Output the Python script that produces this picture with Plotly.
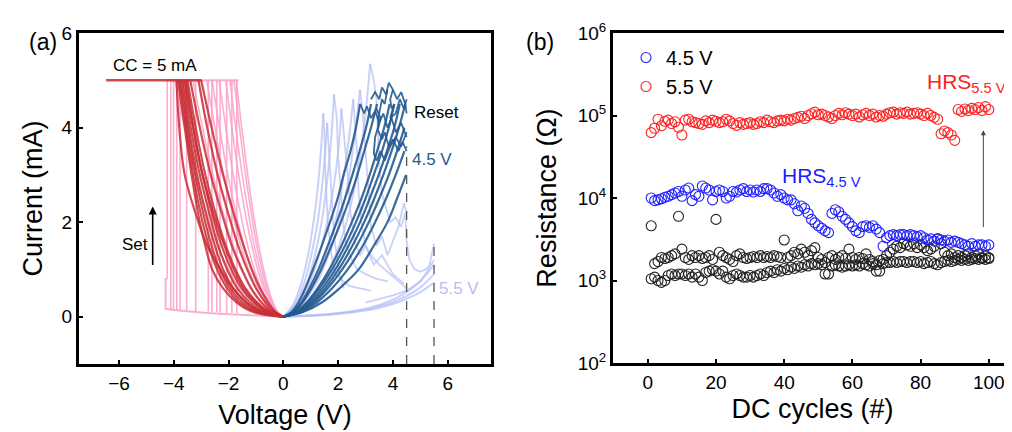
"""Two-panel figure: (a) I-V sweeps, (b) resistance vs DC cycle."""
import plotly.graph_objects as go

FONT = "Liberation Sans, Arial, sans-serif"

# ---------------- panel (a): I-V data ----------------
# current grid (mA) shared by the set-side return curves
CUR_GRID = [5, 4, 3, 2, 1.5, 1, 0.6, 0.3, 0.1, 0]

RED_CURVES = [
    [-3.0, -2.62, -2.2, -1.72, -1.45, -1.15, -0.85, -0.55, -0.28, 0],
    [-3.1, -2.78, -2.4, -1.92, -1.65, -1.32, -1.0, -0.66, -0.33, 0],
    [-3.4, -3.05, -2.65, -2.15, -1.88, -1.52, -1.18, -0.8, -0.42, 0],
    [-3.5, -3.2, -2.85, -2.38, -2.1, -1.75, -1.38, -0.95, -0.5, 0],
    [-3.55, -3.28, -2.95, -2.52, -2.25, -1.9, -1.52, -1.08, -0.6, 0],
    [-3.65, -3.38, -3.05, -2.62, -2.38, -2.05, -1.68, -1.22, -0.7, 0],
    [-3.7, -3.45, -3.15, -2.75, -2.5, -2.2, -1.82, -1.35, -0.8, 0],
    [-3.75, -3.5, -3.22, -2.85, -2.62, -2.32, -1.95, -1.48, -0.9, 0],
    [-3.8, -3.55, -3.3, -2.95, -2.72, -2.42, -2.05, -1.6, -1.0, 0],
    [-3.9, -3.8, -3.6, -3.1, -2.78, -2.3, -1.85, -1.35, -0.8, 0],
    [-3.85, -3.6, -3.35, -3.05, -2.85, -2.6, -2.2, -1.7, -1.1, 0],
    [-3.6, -3.3, -2.95, -2.45, -2.15, -1.8, -1.45, -1.0, -0.55, 0],
]
RED_CC_V = [-6.47, -2.98]

PINK_CURVES = [
    [-1.72, -1.52, -1.3, -1.05, -0.9, -0.72, -0.55, -0.38, -0.2, 0],
    [-1.8, -1.6, -1.38, -1.12, -0.97, -0.78, -0.6, -0.41, -0.22, 0],
    [-1.95, -1.74, -1.5, -1.22, -1.06, -0.86, -0.66, -0.45, -0.24, 0],
    [-2.1, -1.88, -1.63, -1.33, -1.15, -0.94, -0.72, -0.49, -0.26, 0],
    [-2.35, -2.1, -1.83, -1.5, -1.3, -1.06, -0.81, -0.55, -0.29, 0],
    [-2.6, -2.33, -2.03, -1.66, -1.44, -1.17, -0.9, -0.61, -0.32, 0],
    [-2.8, -2.5, -2.18, -1.78, -1.55, -1.26, -0.97, -0.66, -0.35, 0],
    [-3.3, -2.95, -2.57, -2.1, -1.83, -1.49, -1.15, -0.78, -0.41, 0],
    [-3.95, -3.6, -3.2, -2.7, -2.4, -2.0, -1.6, -1.1, -0.6, 0],
]
PINK_SET_V = [-4.24, -4.11, -4.01, -3.89, -3.77, -3.53, -3.2, -2.74, -2.61, -2.43, -2.31, -2.07, -1.88, -1.7]
PINK_SET_I0 = [0.8, 0.15, 0.15, 0.14, 0.14, 0.13, 0.12, 0.11, 0.1, 0.1, 0.09, 0.08, 0.08, 0.07]
PINK_CC_V = [-4.32, -1.64]
PINK_BASE_V = [0, -0.5, -1, -1.5, -2, -2.5, -3, -3.5, -4, -4.3, -4.3, -4.24]
PINK_BASE_I = [0, 0.012, 0.025, 0.04, 0.055, 0.07, 0.09, 0.11, 0.14, 0.17, 0.8, 0.8]

# reset side, 4.5 V stop (dark blue); voltages at each current of DB_GRID
DB_GRID = [0, 0.1, 0.3, 0.6, 1, 1.5, 2, 2.5, 3, 3.5, 4, 4.5]
DB_CURVES = [
    [0, 0.3, 0.55, 0.8, 1.08, 1.4, 1.7, 1.98, 2.2, 2.45, 2.65, 2.8],
    [0, 0.35, 0.65, 0.95, 1.28, 1.62, 1.95, 2.25, 2.52, 2.78, 3.02, 3.2],
    [0, 0.38, 0.7, 1.02, 1.38, 1.75, 2.1, 2.42, 2.7, 2.95, 3.2, 3.42],
    [0, 0.45, 0.85, 1.25, 1.68, 2.12, 2.5, 2.85, 3.15, 3.42, 3.68, 3.88],
    [0, 0.48, 0.9, 1.32, 1.78, 2.25, 2.65, 3.0, 3.3, 3.6, 3.85, 4.05],
    [0, 0.52, 0.98, 1.42, 1.9, 2.38, 2.8, 3.15, 3.48, 3.78, 4.05, 4.25],
    [0, 0.55, 1.05, 1.52, 2.02, 2.52, 2.95, 3.32, 3.65, 3.95, 4.22, 4.45],
    [0, 0.6, 1.12, 1.62, 2.15, 2.68, 3.12, 3.5, 3.85, 4.15, 4.42],
    [0, 0.65, 1.22, 1.78, 2.35, 2.9, 3.35, 3.75, 4.1, 4.42],
    [0, 0.72, 1.4, 2.05, 2.75, 3.3, 3.8, 4.15, 4.48],
]
DB_NOISE = [
    ([2.8, 2.95, 3.05, 3.2, 3.35, 3.5, 3.65, 3.8, 3.95, 4.1, 4.3, 4.5],
     [4.5, 4.3, 4.45, 4.2, 4.35, 4.1, 4.3, 4.0, 4.2, 3.9, 4.1, 3.8]),
    ([3.2, 3.35, 3.5, 3.6, 3.75, 3.85, 4.0, 4.15, 4.3, 4.45, 4.5],
     [4.6, 4.75, 4.6, 4.85, 4.7, 4.95, 4.8, 4.6, 4.75, 4.5, 4.3]),
    ([3.8, 3.7, 3.6, 3.5, 3.45, 3.35, 3.3, 3.4, 3.55, 3.7, 3.9, 4.1, 4.3, 4.5],
     [4.8, 4.5, 4.6, 4.3, 4.0, 3.8, 3.45, 3.3, 3.5, 3.3, 3.6, 3.8, 3.6, 3.9]),
    ([4.0, 3.9, 3.95, 4.05, 3.9, 4.1, 4.25, 4.4, 4.5],
     [4.8, 4.6, 4.4, 4.5, 4.2, 4.3, 4.6, 4.4, 4.6]),
    ([3.4, 3.55, 3.45, 3.6, 3.7, 3.85, 4.0, 4.2, 4.35, 4.5],
     [4.4, 4.2, 3.95, 3.75, 3.9, 3.6, 3.75, 3.5, 3.7, 3.5]),
]

# reset side, 5.5 V stop (light blue): smooth rise, then noisy fall
LB_RISE = [
    ([0, 0.35, 0.65, 0.9, 1.1, 1.27, 1.38, 1.46], [0, 0.25, 0.7, 1.3, 2.0, 2.8, 3.6, 4.3]),
    ([0, 0.4, 0.75, 1.02, 1.25, 1.42, 1.53, 1.6], [0, 0.25, 0.7, 1.3, 2.0, 2.8, 3.5, 4.1]),
    ([0, 0.45, 0.85, 1.15, 1.4, 1.6, 1.75, 1.85], [0, 0.25, 0.7, 1.3, 2.0, 2.9, 3.8, 4.7]),
    ([0, 0.5, 0.95, 1.3, 1.6, 1.85, 2.02, 2.12], [0, 0.25, 0.7, 1.3, 2.0, 2.8, 3.6, 4.4]),
    ([0, 0.6, 1.12, 1.55, 1.9, 2.18, 2.4, 2.55], [0, 0.25, 0.7, 1.3, 2.0, 2.9, 3.8, 4.6]),
    ([0, 0.65, 1.2, 1.65, 2.05, 2.38, 2.62, 2.8], [0, 0.25, 0.7, 1.3, 2.0, 2.9, 3.9, 4.8]),
    ([0, 0.75, 1.38, 1.9, 2.35, 2.72, 2.98, 3.17], [0, 0.25, 0.7, 1.3, 2.1, 3.1, 4.2, 5.35]),
]
LB_FALL = [
    ([1.46, 1.5, 1.52, 1.58, 1.62, 1.7, 1.78, 1.9, 2.1, 2.4, 2.8, 3.2],
     [4.3, 3.9, 3.2, 2.6, 2.0, 1.6, 1.2, 0.9, 0.8, 0.65, 0.6, 0.55]),
    ([1.6, 1.65, 1.72, 1.8, 1.85, 1.95, 2.05, 2.2],
     [4.1, 3.6, 2.9, 2.3, 1.7, 1.3, 0.9, 0.6]),
    ([1.85, 1.95, 2.0, 2.1, 2.2, 2.3, 2.5, 2.7, 3.0, 3.4, 3.8],
     [4.7, 4.2, 3.4, 2.6, 1.9, 1.5, 1.2, 1.0, 0.9, 0.8, 0.75]),
    ([2.12, 2.2, 2.35, 2.45, 2.6, 2.8, 3.0, 3.3, 3.6, 4.0, 4.4],
     [4.4, 3.9, 3.0, 2.2, 1.6, 1.3, 1.5, 1.1, 1.3, 0.9, 0.7]),
    ([2.55, 2.6, 2.7, 2.75, 2.85, 3.0, 3.2, 3.5, 3.9, 4.3, 4.5],
     [4.6, 4.2, 3.4, 2.6, 2.0, 1.5, 1.3, 1.1, 0.9, 0.7, 0.6]),
    ([2.8, 2.9, 3.0, 3.1, 3.2, 3.4, 3.6, 3.8, 4.0, 4.2, 4.4, 4.5],
     [4.8, 4.3, 3.5, 2.7, 1.9, 1.5, 1.7, 1.3, 1.6, 1.9, 2.4, 2.2]),
    ([3.17, 3.3, 3.4, 3.45, 3.5, 3.6, 3.75, 3.9, 4.1, 4.3, 4.45, 4.5, 4.6, 4.8, 5.0, 5.2, 5.4, 5.5],
     [5.35, 5.0, 4.6, 4.0, 3.2, 2.6, 2.3, 2.0, 2.1, 1.9, 2.2, 1.6, 1.2, 1.0, 0.95, 1.0, 1.1, 1.2]),
]
LB_HRS_V = [0, 1, 2, 3, 3.5, 4, 4.5, 5, 5.5]
LB_HRS_I = [
    [0, 0.02, 0.06, 0.13, 0.19, 0.27, 0.38, 0.52, 0.72],
    [0, 0.025, 0.07, 0.15, 0.22, 0.31, 0.44, 0.62, 0.9],
    [0, 0.03, 0.08, 0.17, 0.25, 0.36, 0.52, 0.75, 1.1],
]
LB_TAIL_V = [3.0, 4.0, 4.5, 5.0, 5.3, 5.5]
LB_TAIL_I = [0.3, 0.45, 0.55, 0.75, 1.0, 1.55]

STOP_V = [4.5, 5.5]
STOP_TOP = [3.6, 1.5]

# ---------------- panel (b): resistance vs cycle ----------------
CYCLES = list(range(1, 101))
HRS_55 = [
    62e3, 70e3, 90e3, 75e3, 85e3, 88e3, 80e3, 84e3, 72e3, 58e3,
    88e3, 90e3, 84e3, 82e3, 80e3, 78e3, 86e3, 82e3, 88e3, 85e3,
    82e3, 84e3, 90e3, 86e3, 80e3, 76e3, 82e3, 78e3, 80e3, 82e3,
    78e3, 80e3, 84e3, 82e3, 88e3, 84e3, 82e3, 86e3, 88e3, 86e3,
    90e3, 88e3, 92e3, 95e3, 98e3, 92e3, 100e3, 105e3, 110e3, 102e3,
    104e3, 100e3, 96e3, 92e3, 100e3, 106e3, 102e3, 108e3, 104e3, 100e3,
    104e3, 96e3, 102e3, 106e3, 100e3, 104e3, 96e3, 100e3, 98e3, 104e3,
    108e3, 110e3, 104e3, 108e3, 106e3, 110e3, 104e3, 106e3, 108e3, 104e3,
    100e3, 106e3, 100e3, 95e3, 90e3, 60e3, 65e3, 62e3, 58e3, 50e3,
    118e3, 112e3, 120e3, 115e3, 122e3, 118e3, 125e3, 115e3, 128e3, 118e3,
]
HRS_45 = [
    10.0e3, 9.3e3, 9.5e3, 9.8e3, 10.2e3, 10.5e3, 11e3, 11.5e3, 12e3, 10.5e3,
    12.5e3, 13.2e3, 9.3e3, 11e3, 10.5e3, 14e3, 13.2e3, 12.5e3, 9.5e3, 12e3,
    12.5e3, 12e3, 10e3, 10.5e3, 12e3, 11.8e3, 12.5e3, 13e3, 12e3, 12.5e3,
    11.8e3, 12.5e3, 12e3, 13e3, 13e3, 12.5e3, 11.5e3, 10.5e3, 11e3, 10e3,
    9.5e3, 9.5e3, 8.5e3, 7.0e3, 8e3, 7.5e3, 6.5e3, 5.5e3, 5e3, 4.6e3,
    4.3e3, 4e3, 3.8e3, 6.5e3, 7.2e3, 6.8e3, 6e3, 5.5e3, 5e3, 4.5e3,
    4.0e3, 3.8e3, 4.5e3, 4.6e3, 4.4e3, 4.6e3, 4.2e3, 3.8e3, 2.6e3, 3.3e3,
    3.5e3, 3.6e3, 3.5e3, 3.6e3, 3.6e3, 3.5e3, 3.6e3, 3.5e3, 3.4e3, 3.5e3,
    3.3e3, 3.1e3, 3.2e3, 3.0e3, 3.2e3, 3.1e3, 3.0e3, 3.1e3, 2.9e3, 3.0e3,
    2.9e3, 2.8e3, 2.7e3, 2.6e3, 2.8e3, 2.6e3, 2.7e3, 2.7e3, 2.6e3, 2.7e3,
]
LRS_A = [
    4.6e3, 1.6e3, 1.7e3, 1.9e3, 1.85e3, 1.9e3, 2.0e3, 2.1e3, 6.0e3, 2.4e3,
    1.9e3, 1.8e3, 2.0e3, 1.9e3, 2.0e3, 1.85e3, 1.9e3, 2.0e3, 1.8e3, 5.5e3,
    2.2e3, 2.0e3, 1.9e3, 1.8e3, 1.7e3, 2.0e3, 2.1e3, 1.9e3, 1.85e3, 1.9e3,
    1.95e3, 1.9e3, 2.0e3, 1.9e3, 1.95e3, 1.9e3, 2.0e3, 1.95e3, 1.9e3, 3.1e3,
    1.9e3, 2.0e3, 2.2e3, 2.1e3, 2.4e3, 2.2e3, 2.0e3, 2.3e3, 2.5e3, 1.9e3,
    1.8e3, 1.2e3, 1.9e3, 2.0e3, 1.8e3, 1.9e3, 2.0e3, 1.85e3, 2.4e3, 1.9e3,
    1.8e3, 1.9e3, 1.85e3, 2.1e3, 1.8e3, 1.7e3, 1.3e3, 1.75e3, 1.8e3, 2.0e3,
    2.2e3, 2.4e3, 2.6e3, 2.5e3, 2.8e3, 2.7e3, 2.6e3, 2.8e3, 2.5e3, 2.7e3,
    2.5e3, 2.3e3, 2.4e3, 2.6e3, 3.2e3, 2.8e3, 2.2e3, 2.0e3, 2.1e3, 1.9e3,
    2.0e3, 1.9e3, 2.0e3, 2.1e3, 1.9e3, 2.0e3, 2.1e3, 1.9e3, 2.0e3, 1.9e3,
]
LRS_B = [
    1.05e3, 1.1e3, 1.0e3, 0.95e3, 1.0e3, 1.15e3, 1.2e3, 1.15e3, 1.2e3, 1.2e3,
    1.15e3, 1.2e3, 1.1e3, 1.2e3, 1.1e3, 1.0e3, 1.25e3, 1.3e3, 1.35e3, 1.3e3,
    1.2e3, 1.3e3, 1.1e3, 1.05e3, 1.15e3, 1.2e3, 1.15e3, 1.1e3, 1.1e3, 1.15e3,
    1.1e3, 1.15e3, 1.2e3, 1.15e3, 1.25e3, 1.3e3, 1.25e3, 1.35e3, 1.3e3, 1.4e3,
    1.35e3, 1.45e3, 1.4e3, 1.5e3, 1.45e3, 1.55e3, 1.5e3, 1.6e3, 1.55e3, 1.6e3,
    1.55e3, 1.65e3, 1.2e3, 1.5e3, 1.55e3, 1.5e3, 1.45e3, 1.5e3, 1.55e3, 1.5e3,
    1.55e3, 1.5e3, 1.6e3, 1.55e3, 1.5e3, 1.6e3, 1.55e3, 1.3e3, 1.6e3, 1.65e3,
    1.65e3, 1.7e3, 1.65e3, 1.7e3, 1.7e3, 1.65e3, 1.7e3, 1.7e3, 1.65e3, 1.7e3,
    1.6e3, 1.65e3, 1.7e3, 1.6e3, 1.55e3, 1.65e3, 1.7e3, 1.75e3, 1.7e3, 1.75e3,
    1.8e3, 1.75e3, 1.8e3, 1.75e3, 1.8e3, 1.85e3, 1.8e3, 1.85e3, 1.8e3, 1.85e3,
]

PINK = "rgba(250,160,200,0.85)"
RED = "rgba(200,45,50,0.85)"
DBLUE = "rgba(35,90,145,0.9)"
LBLUE = "rgba(180,190,245,0.7)"

# the page body keeps its default 8 px margin, so the figure starts at (8, 8)
OFF = 8
W, H = 1012 - OFF, 432 - OFF


def px_x(p):
    return (p - OFF) / W


def px_y(p):
    return 1 - (p - OFF) / H


fig = go.Figure()


def line(x, y, color, width, shape="linear", axis=("x", "y"), dash=None):
    fig.add_trace(go.Scatter(
        x=x, y=y, mode="lines", showlegend=False, hoverinfo="skip",
        line=dict(color=color, width=width, shape=shape, dash=dash),
        xaxis=axis[0], yaxis=axis[1],
    ))


# pink set sweeps
line(PINK_BASE_V, PINK_BASE_I, PINK, 2)
for v, i0 in zip(PINK_SET_V, PINK_SET_I0):
    line([v, v], [i0, 5], PINK, 1.6)
line(PINK_CC_V, [5, 5], PINK, 2)
for c in PINK_CURVES:
    line(c, CUR_GRID, PINK, 1.6, "spline")

# light blue 5.5 V reset sweeps
for i in LB_HRS_I:
    line(LB_HRS_V, i, LBLUE, 2, "spline")
line(LB_TAIL_V, LB_TAIL_I, LBLUE, 1.8)
for v, i in LB_RISE:
    line(v, i, LBLUE, 2, "spline")
for v, i in LB_FALL:
    line(v, i, LBLUE, 1.8)

# red set sweeps
line(RED_CC_V, [5, 5], RED, 2.5)
for c in RED_CURVES:
    line(c, CUR_GRID, RED, 2.2, "spline")

# dark blue 4.5 V reset sweeps
for c in DB_CURVES:
    line(c, DB_GRID[:len(c)], DBLUE, 2.2, "spline")
for v, i in DB_NOISE:
    line(v, i, DBLUE, 1.8)

for v, top in zip(STOP_V, STOP_TOP):
    line([v, v], [-1, top], "#555555", 1.3, dash="dash")


# panel (b) scatter
def circles(y, color, name, legend):
    fig.add_trace(go.Scatter(
        x=CYCLES, y=y, mode="markers", name=name, showlegend=legend,
        marker=dict(symbol="circle", size=10, color="rgba(0,0,0,0)",
                    line=dict(color=color, width=1.1)),
        xaxis="x2", yaxis="y2",
    ))


circles(LRS_A, "#222222", "LRS", False)
circles(LRS_B, "#222222", "LRS", False)
circles(HRS_45, "#2020ff", "4.5 V", True)
circles(HRS_55, "#ff2020", "5.5 V", True)

axis_common = dict(
    showline=True, linewidth=3, linecolor="black", mirror=True,
    ticks="inside", ticklen=4, tickwidth=2, tickcolor="black",
    showgrid=False, zeroline=False, automargin=False,
    tickfont=dict(size=19, color="black", family=FONT),
)

fig.update_layout(
    width=W, height=H, margin=dict(l=0, r=0, t=0, b=0),
    plot_bgcolor="white", paper_bgcolor="white",
    font=dict(family=FONT, color="black"),
    xaxis=dict(axis_common, domain=[px_x(79), px_x(491)], range=[-7.46, 7.58],
               tickvals=[-6, -4, -2, 0, 2, 4, 6], anchor="y",
               title=dict(text="Voltage (V)", font=dict(size=27), standoff=13)),
    yaxis=dict(axis_common, domain=[px_y(364), px_y(33)], range=[-1.0, 6.0],
               tickvals=[0, 2, 4, 6], anchor="x",
               title=dict(text="Current (mA)", font=dict(size=27), standoff=12)),
    xaxis2=dict(axis_common, domain=[px_x(613), 1.0], range=[-10.2, 106.8],
                tickvals=[0, 20, 40, 60, 80, 100], anchor="y2",
                title=dict(text="DC cycles (#)", font=dict(size=27), standoff=8)),
    yaxis2=dict(axis_common, domain=[px_y(363), px_y(33)], type="log", range=[2, 6],
                tickvals=[1e2, 1e3, 1e4, 1e5, 1e6], anchor="x2", mirror=False,
                ticktext=["10<sup>2</sup>", "10<sup>3</sup>", "10<sup>4</sup>",
                          "10<sup>5</sup>", "10<sup>6</sup>"],
                title=dict(text="Resistance (Ω)", font=dict(size=27), standoff=14)),
    legend=dict(x=px_x(626), y=px_y(38), xanchor="left", yanchor="top",
                bgcolor="rgba(0,0,0,0)", font=dict(size=20), itemwidth=30,
                tracegroupgap=0),
)

annots = [
    dict(text="(a)", x=px_x(27), y=px_y(27), xref="paper", yref="paper", font=dict(size=23)),
    dict(text="(b)", x=px_x(540), y=px_y(27), xref="paper", yref="paper", font=dict(size=23)),
    dict(text="CC = 5 mA", x=-4.68, y=5.32, xref="x", yref="y", font=dict(size=17)),
    dict(text="Reset", x=5.6, y=4.31, xref="x", yref="y", font=dict(size=17)),
    dict(text="4.5 V", x=5.42, y=3.32, xref="x", yref="y", font=dict(size=17, color="rgb(35,90,145)")),
    dict(text="5.5 V", x=6.4, y=0.6, xref="x", yref="y", font=dict(size=17, color="rgb(180,190,245)")),
    dict(text="Set", x=-5.42, y=1.52, xref="x", yref="y", font=dict(size=17)),
    dict(text="HRS<sub>5.5 V</sub>", x=81.3, y=5.4, xref="x2", yref="y2", xanchor="left",
         font=dict(size=21, color="#ff2020")),
    dict(text="HRS<sub>4.5 V</sub>", x=38.7, y=4.25, xref="x2", yref="y2", xanchor="left",
         font=dict(size=21, color="#2020ff")),
]
for a in annots:
    fig.add_annotation(showarrow=False, **a)

fig.add_annotation(x=-4.77, y=2.33, ax=-4.77, ay=1.06, xref="x", yref="y", axref="x", ayref="y",
                   showarrow=True, arrowhead=2, arrowsize=1, arrowwidth=1.6, arrowcolor="black", text="")
fig.add_annotation(x=98.4, y=4.82, ax=98.4, ay=3.63, xref="x2", yref="y2", axref="x2", ayref="y2",
                   showarrow=True, arrowhead=2, arrowsize=1, arrowwidth=1, arrowcolor="#444444", text="")

fig.write_html("out.html")
